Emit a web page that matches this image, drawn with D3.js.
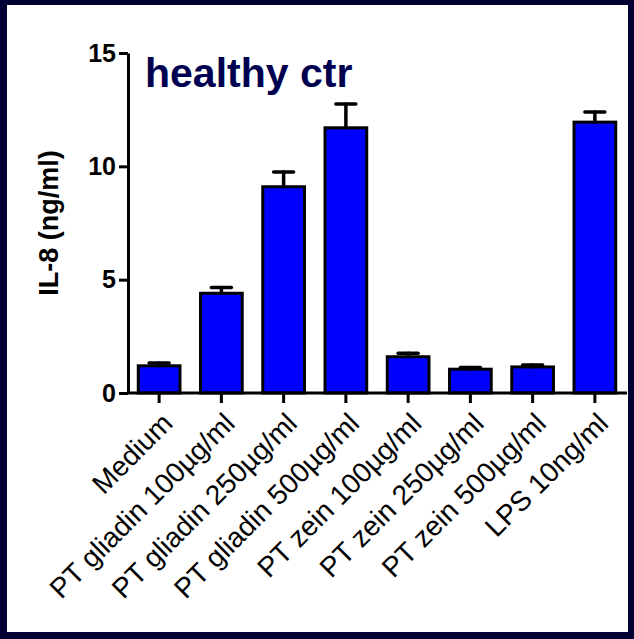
<!DOCTYPE html>
<html>
<head>
<meta charset="utf-8">
<script src="https://cdn.jsdelivr.net/npm/d3@7"></script>
<style>
  html, body { margin: 0; padding: 0; background: #000033; }
  svg { display: block; }
  text { font-family: Arial, "Liberation Sans", sans-serif; }
</style>
</head>
<body>
<svg width="634" height="639"></svg>
<script>
// treatment groups on the x axis
var categories = ["Medium", "PT gliadin 100\u00b5g/ml", "PT gliadin 250\u00b5g/ml", "PT gliadin 500\u00b5g/ml",
  "PT zein 100\u00b5g/ml", "PT zein 250\u00b5g/ml", "PT zein 500\u00b5g/ml", "LPS 10ng/ml"];
// IL-8 mean (ng/ml) and SEM
var means = [1.2, 4.4, 9.1, 11.7, 1.6, 1.05, 1.15, 11.95];
var sems = [0.12, 0.25, 0.65, 1.05, 0.15, 0.08, 0.09, 0.45];
var yTicks = [0, 5, 10, 15];
var title = "healthy ctr";
var yLabel = "IL-8 (ng/ml)";

var data = categories.map(function (c, i) { return { name: c, mean: means[i], sem: sems[i] }; });

var svg = d3.select("svg");

// white panel on the dark slide background
svg.append("rect")
  .attr("x", 7).attr("y", 5)
  .attr("width", 634 - 7 - 6).attr("height", 639 - 5 - 7)
  .attr("fill", "#fff");

var plotLeft = 128, plotRight = 626, plotTop = 53, plotBottom = 393;

var x = d3.scaleBand()
  .domain(categories)
  .range([plotLeft, plotRight])
  .paddingInner(0.33)
  .paddingOuter(0.165);

var y = d3.scaleLinear()
  .domain([0, 15])
  .range([plotBottom, plotTop]);

// bars
svg.append("g").selectAll("rect")
  .data(data)
  .enter().append("rect")
  .attr("x", function (d) { return x(d.name); })
  .attr("y", function (d) { return y(d.mean); })
  .attr("width", x.bandwidth())
  .attr("height", function (d) { return y(0) - y(d.mean); })
  .attr("fill", "#0000ff")
  .attr("stroke", "#000")
  .attr("stroke-width", 3);

// error bars (upper half only)
var err = svg.append("g").selectAll("g")
  .data(data)
  .enter().append("g")
  .attr("stroke", "#000")
  .attr("stroke-width", 3.5)
  .attr("stroke-linecap", "round");

err.append("line")
  .attr("x1", function (d) { return x(d.name) + x.bandwidth() / 2; })
  .attr("x2", function (d) { return x(d.name) + x.bandwidth() / 2; })
  .attr("y1", function (d) { return y(d.mean); })
  .attr("y2", function (d) { return y(d.mean + d.sem); });

err.append("line")
  .attr("x1", function (d) { return x(d.name) + x.bandwidth() / 2 - 10; })
  .attr("x2", function (d) { return x(d.name) + x.bandwidth() / 2 + 10; })
  .attr("y1", function (d) { return y(d.mean + d.sem); })
  .attr("y2", function (d) { return y(d.mean + d.sem); });

// y axis
var yAxis = svg.append("g")
  .attr("transform", "translate(" + plotLeft + ",0)")
  .call(d3.axisLeft(y).tickValues(yTicks).tickSize(9).tickPadding(3).tickSizeOuter(0));
yAxis.select(".domain").attr("stroke-width", 3);
yAxis.selectAll(".tick line").attr("stroke-width", 3);
yAxis.selectAll(".tick text")
  .attr("font-size", 25)
  .attr("font-weight", "bold")
  .attr("fill", "#000");

// x axis
var xAxis = svg.append("g")
  .attr("transform", "translate(0," + plotBottom + ")")
  .call(d3.axisBottom(x).tickSize(10).tickSizeOuter(0));
xAxis.select(".domain").attr("stroke-width", 3).attr("d", "M" + plotLeft + ",0H627");
xAxis.selectAll(".tick line").attr("stroke-width", 3);
xAxis.selectAll(".tick text")
  .attr("font-size", 28)
  .attr("fill", "#000")
  .attr("text-anchor", "end")
  .attr("transform", "translate(15,32) rotate(-45)")
  .attr("x", 0).attr("y", 0).attr("dy", 0);

// title
svg.append("text")
  .attr("x", 145).attr("y", 87)
  .attr("font-size", 41)
  .attr("font-weight", "bold")
  .attr("fill", "#000050")
  .text(title);

// y axis label
svg.append("text")
  .attr("transform", "translate(58," + ((plotTop + plotBottom) / 2) + ") rotate(-90)")
  .attr("text-anchor", "middle")
  .attr("font-size", 27)
  .attr("font-weight", "bold")
  .attr("fill", "#000")
  .text(yLabel);
</script>
</body>
</html>
